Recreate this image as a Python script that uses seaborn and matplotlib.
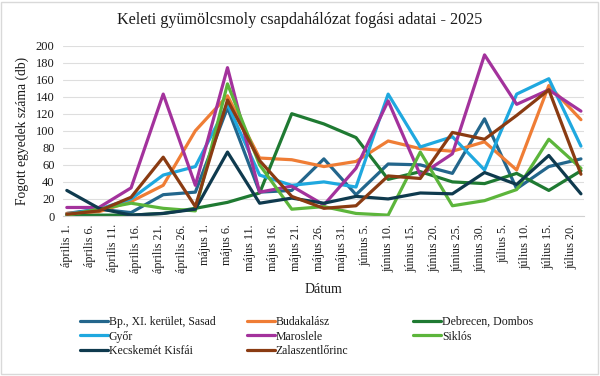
import matplotlib
matplotlib.use('Agg')
import matplotlib.pyplot as plt
from matplotlib.lines import Line2D
from matplotlib.patches import Rectangle
import pandas as pd
import seaborn as sns

dates = ['2025-04-01', '2025-04-08', '2025-04-15', '2025-04-22', '2025-04-29',
         '2025-05-06', '2025-05-13', '2025-05-20', '2025-05-27', '2025-06-03',
         '2025-06-10', '2025-06-17', '2025-06-24', '2025-07-01', '2025-07-08',
         '2025-07-15', '2025-07-22']

bp_sasad = [3, 8, 4, 25, 28, 127, 28, 30, 67, 25, 61, 60, 50, 114, 32, 58, 67]
budakalasz = [3, 5, 17, 36, 100, 141, 68, 66, 58, 64, 88, 79, 76, 87, 54, 153, 113]
debrecen = [0, 1, 1, 3, 9, 16, 27, 120, 108, 92, 43, 52, 40, 38, 50, 30, 53]
gyor = [2, 8, 20, 48, 58, 131, 48, 36, 40, 34, 143, 81, 93, 54, 143, 161, 82]
maroslele = [10, 10, 33, 143, 36, 174, 28, 35, 13, 56, 135, 48, 73, 189, 131, 148, 123]
siklos = [1, 8, 15, 9, 6, 155, 60, 8, 11, 3, 1, 75, 12, 18, 31, 90, 56]
kecskemet = [30, 9, 1, 3, 8, 75, 15, 21, 15, 23, 20, 27, 26, 51, 37, 71, 26]
zalaszentlorinc = [2, 6, 22, 69, 11, 136, 65, 23, 9, 12, 47, 44, 98, 90, 118, 148, 49]

sites = ['Bp., XI. kerület, Sasad', 'Budakalász', 'Debrecen, Dombos', 'Győr',
         'Maroslele', 'Siklós', 'Kecskemét Kisfái', 'Zalaszentlőrinc']
series = [bp_sasad, budakalasz, debrecen, gyor, maroslele, siklos, kecskemet, zalaszentlorinc]
colors = ['#23668c', '#ef7d35', '#1f7a32', '#1fa8df', '#a3329c', '#5cb53b', '#0f3a4e', '#8a3b12']

tick_labels = ['április 1.', 'április 6.', 'április 11.', 'április 16.', 'április 21.', 'április 26.',
               'május 1.', 'május 6.', 'május 11.', 'május 16.', 'május 21.', 'május 26.', 'május 31.',
               'június 5.', 'június 10.', 'június 15.', 'június 20.', 'június 25.', 'június 30.',
               'július 5.', 'július 10.', 'július 15.', 'július 20.']
tick_dates = pd.date_range('2025-04-01', '2025-07-20', freq='5D')

rows = []
for site, vals in zip(sites, series):
    for d, v in zip(dates, vals):
        rows.append({'Dátum': pd.Timestamp(d), 'site': site, 'db': v})
df = pd.DataFrame(rows)

sns.set_style("white")
plt.rcParams['font.family'] = ['Liberation Serif', 'DejaVu Serif']
txt = '#1a1a1a'

fig = plt.figure(figsize=(6, 3.76), dpi=100)
ax = fig.add_axes([63 / 600, 1 - 216 / 376, (584 - 63) / 600, (216 - 45.5) / 376])

sns.lineplot(data=df, x='Dátum', y='db', hue='site', hue_order=sites,
             palette=colors, linewidth=2.3, ax=ax, legend=False)

ax.set_ylim(0, 200)
ax.set_yticks(range(0, 201, 20))
ax.set_xlim(pd.Timestamp('2025-04-01') - pd.Timedelta(hours=20),
            pd.Timestamp('2025-07-22') + pd.Timedelta(hours=16))
ax.set_xticks(tick_dates)
ax.set_xticklabels(tick_labels, rotation=90, fontsize=8.7, color=txt)
ax.tick_params(axis='y', labelsize=9, colors=txt, length=0, pad=6)
ax.tick_params(axis='x', length=4, color='#d0d0d0', pad=2)
ax.yaxis.grid(True, color='#dedede', linewidth=0.8)
ax.set_axisbelow(True)
for s in ['top', 'right', 'left']:
    ax.spines[s].set_visible(False)
ax.spines['bottom'].set_color('#d0d0d0')

ax.set_xlabel('Dátum', fontsize=10, color=txt, labelpad=7)
ax.set_ylabel('Fogott egyedek száma (db)', fontsize=9.8, color=txt, labelpad=5)
fig.text(0.5, 1 - 20 / 376, 'Keleti gyümölcsmoly csapdahálózat fogási adatai - 2025',
         ha='center', va='center', fontsize=11.6, color=txt)

# legend in three columns, row-major like the original
col_x = [80, 247, 413]
for c in range(3):
    idx = [i for i in range(len(sites)) if i % 3 == c]
    handles = [Line2D([0], [0], color=colors[i], lw=2.3) for i in idx]
    fig.legend(handles, [sites[i] for i in idx], loc='upper left',
               bbox_to_anchor=(col_x[c] / 600, 1 - 316 / 376), frameon=False,
               fontsize=8.5, handlelength=2.4, handletextpad=0.05,
               labelspacing=0.22, borderpad=0, borderaxespad=0, labelcolor=txt)

fig.patches.append(Rectangle((0.002, 0.004), 0.994, 0.992, transform=fig.transFigure,
                             fill=False, edgecolor='#d9d9d9', linewidth=1))

fig.savefig('out.png', dpi=100)
